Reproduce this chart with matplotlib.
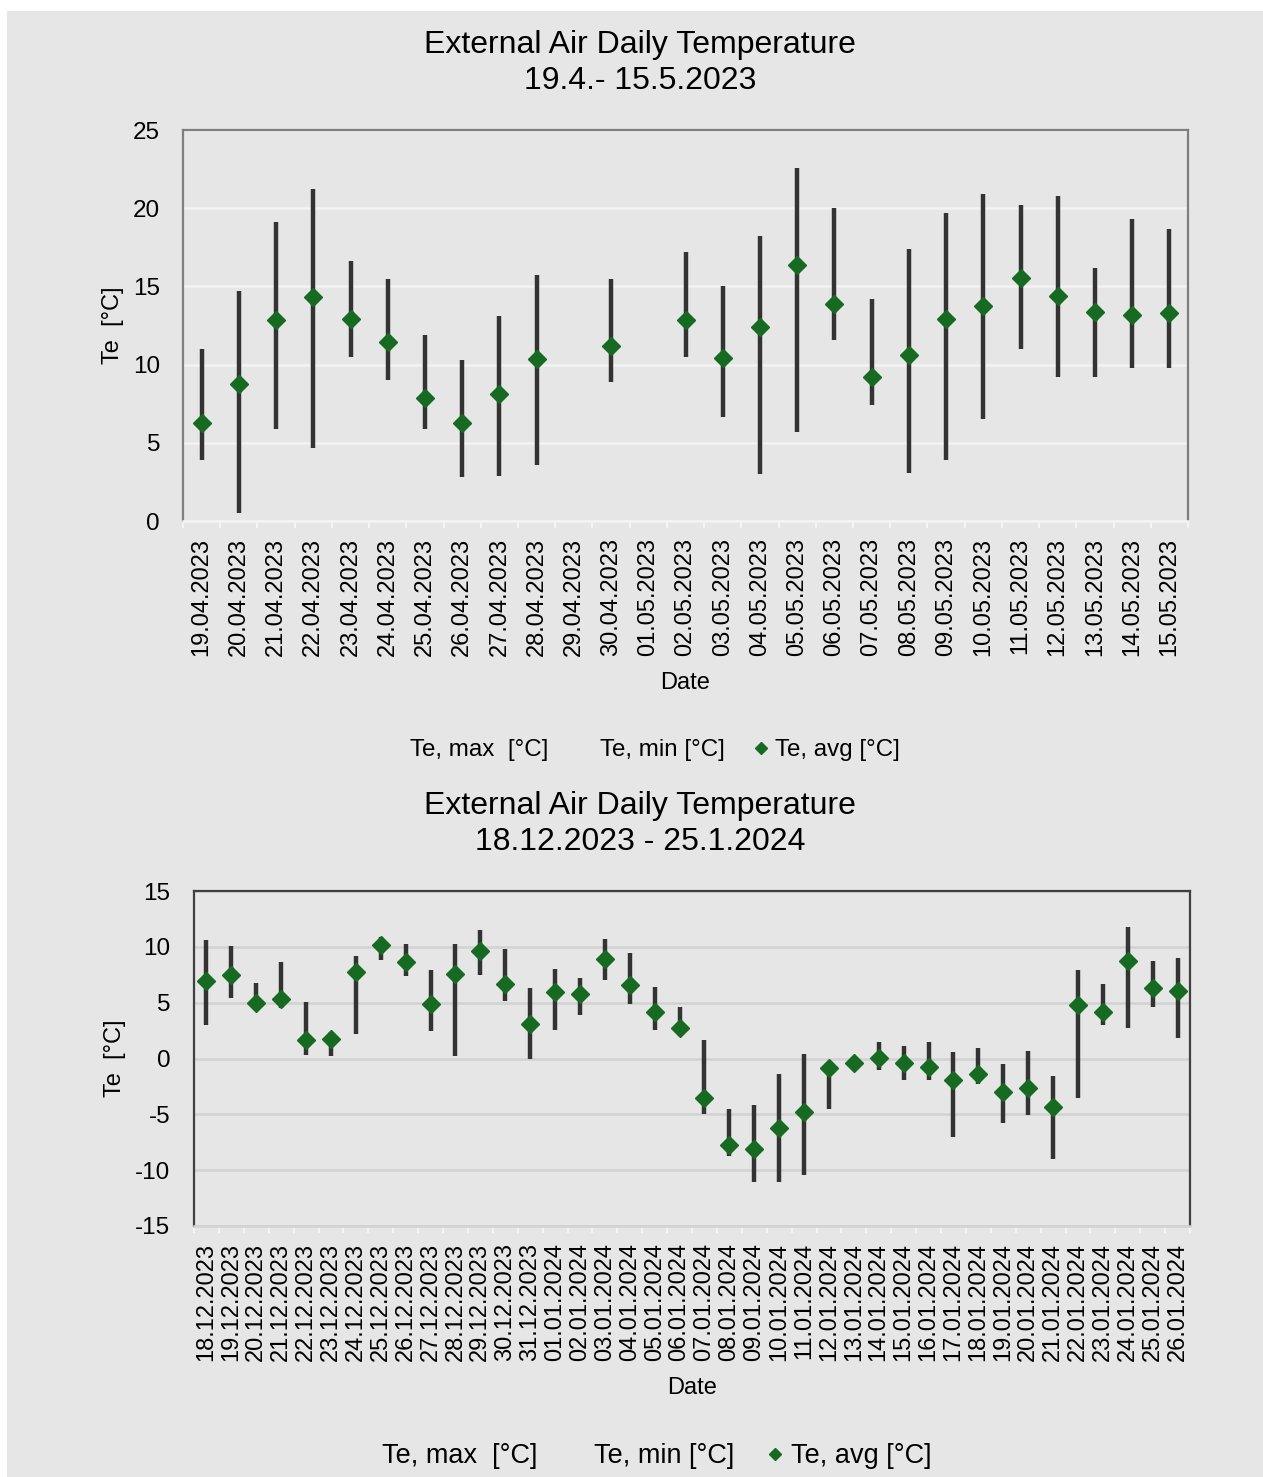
import numpy as np
import matplotlib.pyplot as plt
from matplotlib.patches import Rectangle
from matplotlib.ticker import FixedLocator

plt.rcParams['font.family'] = ['Liberation Sans', 'DejaVu Sans']
plt.rcParams['axes.unicode_minus'] = False

nan = np.nan

# spring period 19.4. - 15.5.2023
days1 = ['19.04.2023', '20.04.2023', '21.04.2023', '22.04.2023', '23.04.2023',
         '24.04.2023', '25.04.2023', '26.04.2023', '27.04.2023', '28.04.2023',
         '29.04.2023', '30.04.2023', '01.05.2023', '02.05.2023', '03.05.2023',
         '04.05.2023', '05.05.2023', '06.05.2023', '07.05.2023', '08.05.2023',
         '09.05.2023', '10.05.2023', '11.05.2023', '12.05.2023', '13.05.2023',
         '14.05.2023', '15.05.2023']
tmax1 = [11.0, 14.7, 19.1, 21.2, 16.6, 15.5, 11.9, 10.3, 13.1, 15.7, nan, 15.5, nan,
         17.2, 15.0, 18.2, 22.6, 20.0, 14.2, 17.4, 19.7, 20.9, 20.2, 20.8, 16.2, 19.3, 18.7]
tmin1 = [3.9, 0.5, 5.9, 4.65, 10.5, 9.0, 5.9, 2.8, 2.9, 3.6, nan, 8.9, nan,
         10.5, 6.65, 3.0, 5.7, 11.6, 7.4, 3.1, 3.9, 6.55, 11.0, 9.2, 9.2, 9.8, 9.8]
tavg1 = [6.25, 8.76, 12.86, 14.35, 12.94, 11.47, 7.87, 6.25, 8.1, 10.34, nan, 11.2, nan,
         12.86, 10.4, 12.43, 16.4, 13.9, 9.23, 10.64, 12.92, 13.77, 15.56, 14.41, 13.35, 13.2, 13.28]

# winter period 18.12.2023 - 25.1.2024
days2 = ['18.12.2023', '19.12.2023', '20.12.2023', '21.12.2023', '22.12.2023',
         '23.12.2023', '24.12.2023', '25.12.2023', '26.12.2023', '27.12.2023',
         '28.12.2023', '29.12.2023', '30.12.2023', '31.12.2023', '01.01.2024',
         '02.01.2024', '03.01.2024', '04.01.2024', '05.01.2024', '06.01.2024',
         '07.01.2024', '08.01.2024', '09.01.2024', '10.01.2024', '11.01.2024',
         '12.01.2024', '13.01.2024', '14.01.2024', '15.01.2024', '16.01.2024',
         '17.01.2024', '18.01.2024', '19.01.2024', '20.01.2024', '21.01.2024',
         '22.01.2024', '23.01.2024', '24.01.2024', '25.01.2024', '26.01.2024']
tmax2 = [10.6, 10.1, 6.8, 8.66, 5.07, 2.4, 9.2, 10.9, 10.24, 7.94, 10.24, 11.5, 9.8, 6.3,
         8.0, 7.2, 10.7, 9.43, 6.4, 4.6, 1.7, -4.48, -4.15, -1.37, 0.36, -0.3, 0.0, 1.5,
         1.13, 1.5, 0.57, 0.9, -0.48, 0.69, -1.6, 7.94, 6.66, 11.8, 8.75, 8.96]
tmin2 = [3.0, 5.4, 4.5, 4.5, 0.3, 0.2, 2.15, 8.8, 7.37, 2.5, 0.2, 7.46, 5.16, 0.0,
         2.54, 3.9, 7.0, 4.84, 2.54, 2.0, -4.96, -8.7, -11.1, -11.1, -10.4, -4.48, -0.8, -1.05,
         -1.94, -1.94, -7.0, -2.3, -5.76, -5.04, -8.96, -3.58, 3.0, 2.75, 4.6, 1.82]
tavg2 = [6.96, 7.5, 5.0, 5.37, 1.64, 1.76, 7.76, 10.15, 8.66, 4.9, 7.6, 9.6, 6.7, 3.13,
         6.0, 5.8, 8.87, 6.6, 4.18, 2.7, -3.52, -7.76, -8.1, -6.2, -4.78, -0.87, -0.39, 0.06,
         -0.39, -0.78, -1.9, -1.43, -3.0, -2.6, -4.33, 4.78, 4.18, 8.69, 6.27, 6.03]

BG = '#e6e6e6'
GREEN = '#176a21'
W, H = 1263, 1477

fig = plt.figure(figsize=(W / 100, H / 100), dpi=100, facecolor='white')
fig.patches.append(Rectangle((7 / W, 0), 1 - 7 / W, 1 - 11 / H, transform=fig.transFigure,
                             facecolor=BG, edgecolor='none', zorder=-10))


def panel(rect, days, tmax, tmin, tavg, ylim, period, title_y, legend_y, spine_col,
          grid_col, fs_leg, ylab_x, date_y, ypad):
    ax = fig.add_axes(rect)
    ax.set_facecolor(BG)
    x = np.arange(len(days))
    ax.vlines(x, tmin, tmax, color='#333333', lw=3.2, zorder=3)
    ax.plot(x, tmax, ls='none', marker='none', label='Te, max  [°C]')
    ax.plot(x, tmin, ls='none', marker='none', label='Te, min [°C]')
    ax.plot(x, tavg, ls='none', marker='D', ms=9.5, color=GREEN, zorder=4,
            label='Te, avg [°C]')
    ax.set_xlim(-0.5, len(days) - 0.5)
    ax.set_ylim(*ylim)
    ax.set_yticks(np.arange(ylim[0], ylim[1] + 1, 5))
    ax.set_xticks(x)
    ax.set_xticklabels(days, rotation=90, fontsize=17)
    ax.xaxis.set_minor_locator(FixedLocator(np.arange(-0.5, len(days), 1)))
    ax.tick_params(axis='x', which='major', length=0, pad=12)
    ax.tick_params(axis='x', which='minor', length=5, width=1.2, color='#f8f8f8')
    ax.tick_params(axis='y', length=0, pad=ypad, labelsize=17.5)
    ax.grid(axis='y', color=grid_col, lw=1.8, zorder=0)
    ax.set_axisbelow(True)
    for s in ['left', 'top', 'right']:
        ax.spines[s].set_color(spine_col)
        ax.spines[s].set_linewidth(1.6)
    ax.spines['bottom'].set_color(grid_col)
    ax.spines['bottom'].set_linewidth(1.8)
    ax.set_xlabel('Date', fontsize=17)
    ax.xaxis.set_label_coords(0.5, date_y)
    ax.set_ylabel('Te  [°C]', fontsize=17)
    ax.yaxis.set_label_coords(ylab_x, 0.5)
    fig.text(640 / W, 1 - title_y / H, 'External Air Daily Temperature\n' + period,
             ha='center', va='center', fontsize=23, linespacing=1.3)
    fig.legend(*ax.get_legend_handles_labels(), loc='center', ncol=3,
               bbox_to_anchor=(642 / W, 1 - legend_y / H), frameon=False,
               fontsize=fs_leg, handlelength=1.0, handletextpad=0.1,
               columnspacing=1.0, markerscale=0.65)
    return ax


panel([183 / W, 1 - 521 / H, 1005 / W, 391 / H], days1, tmax1, tmin1, tavg1, (0, 25),
      '19.4.- 15.5.2023', 63, 750, '#7f7f7f', '#f3f3f3', 17.4, -0.059, -0.385, 16.5)
panel([194 / W, 1 - 1226 / H, 996 / W, 335 / H], days2, tmax2, tmin2, tavg2, (-15, 15),
      '18.12.2023 - 25.1.2024', 824, 1456, '#404040', '#d2d2d2', 19.5, -0.068, -0.45, 17)

plt.savefig('out.png', dpi=100)
